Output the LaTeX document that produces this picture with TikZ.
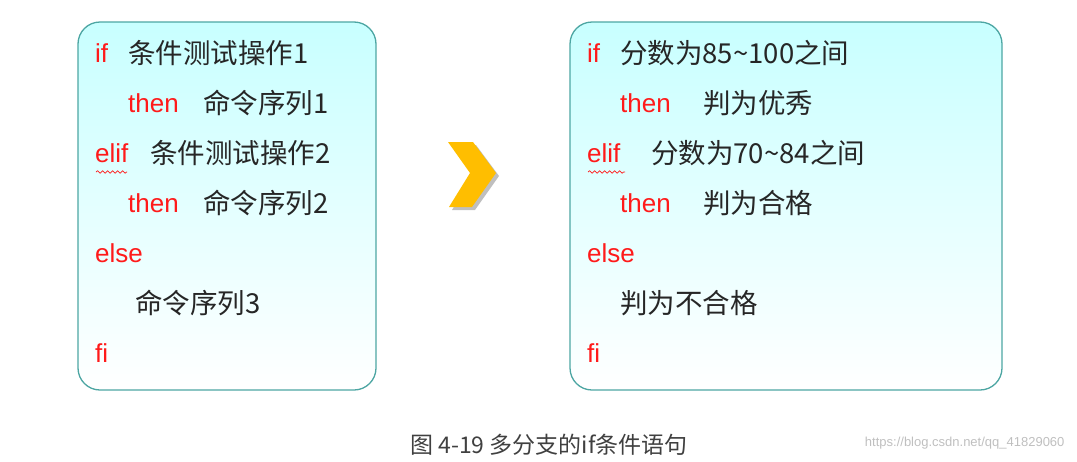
\documentclass[tikz,border=0pt]{standalone}
\usepackage{fontspec}
\setmainfont{Liberation Sans}
\newfontfamily\cjk{Noto Sans CJK SC}
\usetikzlibrary{decorations.pathmorphing}
\definecolor{kw}{HTML}{FF1A1A}
\definecolor{bd}{HTML}{4DA6A3}
\definecolor{cy}{HTML}{C8FFFF}
\definecolor{arr}{HTML}{FFBE00}
\tikzset{
 panel/.style={draw=bd,line width=1.3pt,rounded corners=22pt,top color=cy,bottom color=white},
 ln/.style={anchor=west,inner sep=0pt,font=\fontsize{26}{26}\selectfont},
 kwd/.style={ln,text=kw},
 txt/.style={ln,text=black!85,font=\fontsize{27.5}{27.5}\selectfont\cjk},
 squig/.style={draw=kw,line width=0.7pt,decorate,decoration={snake,amplitude=1.2pt,segment length=5pt}}
}
\begin{document}
\begin{tikzpicture}[x=1pt,y=-1pt]
\useasboundingbox (0,0) rectangle (1077,461);
\path[panel] (78,22) rectangle (376,390);
\path[panel] (570,22) rectangle (1002,390);
% left
\node[kwd] (l1) at (95,53) {if};
\node[txt] (l1t) at (128,53) {条件测试操作1};
\node[kwd] (l2) at (128,103) {then};
\node[txt] (l2t) at (203,103) {命令序列1};
\node[kwd] (l3) at (95,153) {elif};
\node[txt] (l3t) at (150,153) {条件测试操作2};
\node[kwd] (l4) at (128,203) {then};
\node[txt] (l4t) at (203,203) {命令序列2};
\node[kwd] (l5) at (95,253) {else};
\node[txt] (l6t) at (135,303) {命令序列3};
\node[kwd] (l7) at (95,353) {fi};
\draw[squig] (96,172) -- (127,172);
% right
\node[kwd] (r1) at (587,53) {if};
\node[txt] (r1t) at (620,53) {分数为85\textasciitilde100之间};
\node[kwd] (r2) at (620,103) {then};
\node[txt] (r2t) at (703,103) {判为优秀};
\node[kwd] (r3) at (587,153) {elif};
\node[txt] (r3t) at (651,153) {分数为70\textasciitilde84之间};
\node[kwd] (r4) at (620,203) {then};
\node[txt] (r4t) at (703,203) {判为合格};
\node[kwd] (r5) at (587,253) {else};
\node[txt] (r6t) at (620,303) {判为不合格};
\node[kwd] (r7) at (587,353) {fi};
\draw[squig] (588,172) -- (625,172);
% chevron
\fill[black!25] (451,145) -- (476,145) -- (499,176) -- (475,210) -- (452,210) -- (473,176) -- cycle;
\fill[arr] (448,142) -- (473,142) -- (496,173) -- (472,207) -- (449,207) -- (470,173) -- cycle;
% caption
\node[font=\fontsize{23}{23}\selectfont\cjk,text=black!75] (cap) at (549,445) {图 4-19 多分支的if条件语句};
\node[anchor=east,font=\fontsize{13}{13}\selectfont,text=black!25] (wm) at (1068,443) {https://blog.csdn.net/qq\_41829060};
\end{tikzpicture}
\end{document}
